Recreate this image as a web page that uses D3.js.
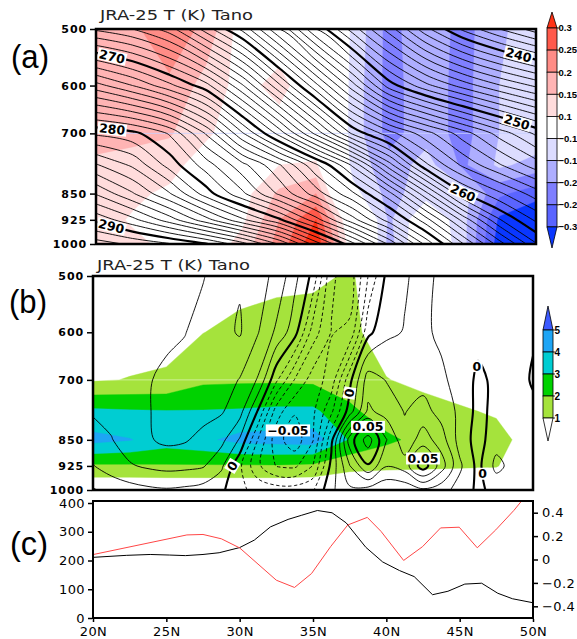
<!DOCTYPE html>
<html>
<head>
<meta charset="utf-8">
<script src="https://cdn.jsdelivr.net/npm/d3@7/dist/d3.min.js"></script>
<style>
  body { margin: 0; background: #fff; }
  svg { display: block; }
</style>
</head>
<body>
<svg id="fig" width="577" height="639"></svg>
<script>
////////////////////////////////////////////////////////////////////////////////
// Data  (every grid row runs 500 hPa at the top -> 1000 hPa at the bottom)

var levels = [500, 600, 700, 775, 850, 925, 1000];
var tickLevels = [500, 600, 700, 850, 925, 1000];

// (a) 2.5 deg latitude grid
var latA = [20, 22.5, 25, 27.5, 30, 32.5, 35, 37.5, 40, 42.5, 45, 47.5, 50];

var tempK = [
  [266.8, 266.0, 264.5, 261.5, 258.7, 255.0, 251.0, 247.5, 244.5, 241.3, 238.8, 237.0, 235.5],
  [274.4, 273.0, 271.3, 269.4, 266.1, 262.2, 258.3, 254.4, 250.5, 248.3, 246.6, 245.1, 243.8],
  [280.8, 280.3, 278.9, 275.9, 272.1, 268.6, 264.7, 260.8, 258.4, 256.4, 254.5, 252.6, 250.8],
  [284.1, 282.8, 280.6, 278.5, 276.3, 274.1, 271.2, 267.8, 263.4, 259.2, 256.8, 255.1, 253.5],
  [286.9, 285.1, 283.1, 280.5, 278.2, 275.8, 273.5, 271.2, 268.3, 264.3, 260.1, 258.2, 256.5],
  [289.7, 288.3, 286.5, 284.4, 282.2, 280.2, 277.4, 274.4, 271.5, 268.4, 264.7, 261.1, 258.8],
  [292.5, 291.8, 291.1, 290.1, 288.4, 285.9, 282.5, 279.3, 275.8, 271.7, 268.1, 264.5, 261.1]
];

var tempAno = [
  [0.18, 0.19, 0.235, 0.185, 0.07, 0.06, 0.02, -0.11, -0.22, -0.16, -0.22, -0.16, -0.12],
  [0.18, 0.18, 0.19, 0.13, 0.08, 0.12, 0.05, -0.12, -0.22, -0.17, -0.22, -0.15, -0.11],
  [0.17, 0.165, 0.155, 0.11, 0.06, 0.07, 0.03, -0.12, -0.22, -0.17, -0.22, -0.15, -0.11],
  [0.14, 0.13, 0.12, 0.07, 0.05, 0.10, 0.11, -0.12, -0.18, -0.13, -0.21, -0.14, -0.17],
  [0.12, 0.11, 0.09, 0.05, 0.08, 0.16, 0.20, -0.08, -0.17, -0.12, -0.13, -0.24, -0.28],
  [0.12, 0.095, 0.07, 0.05, 0.09, 0.20, 0.30, 0.02, -0.16, -0.05, -0.13, -0.31, -0.35],
  [0.12, 0.11, 0.09, 0.06, 0.12, 0.22, 0.34, 0.05, -0.17, -0.03, -0.13, -0.33, -0.36]
];

// (b) shaded field, same 2.5 deg grid
var shadeB = [
  [0.1, 0.2, 0.3, 0.4, 0.55, 0.75, 0.8, 1.1, 0.4, 0.3, 0.2, 0.1, 0.1],
  [0.3, 0.5, 0.6, 0.98, 1.3, 1.4, 1.45, 1.2, 0.6, 0.4, 0.3, 0.2, 0.1],
  [0.9, 1.04, 1.15, 1.8, 1.85, 1.85, 1.8, 1.5, 1.03, 0.8, 0.6, 0.4, 0.2],
  [3.2, 3.1, 3.05, 3.05, 3.1, 3.2, 3.2, 2.2, 1.5, 1.3, 1.1, 0.9, 0.3],
  [4.3, 4.05, 3.5, 3.8, 4.3, 4.4, 4.5, 2.9, 2.2, 1.7, 1.5, 1.3, 0.6],
  [1.85, 1.85, 1.9, 1.9, 1.9, 1.9, 1.8, 1.3, 1.2, 1.15, 1.1, 1.05, 0.3],
  [0.05, 0.05, 0.05, 0.05, 0.05, 0.05, 0.05, 0.05, 0.05, 0.05, 0.05, 0.05, 0.05]
];

// (b) contoured field on a 1.25 deg grid, in units of 0.01
var latW = [20, 21.25, 22.5, 23.75, 25, 26.25, 27.5, 28.75, 30, 31.25, 32.5, 33.75, 35,
            36.25, 37.5, 38.75, 40, 41.25, 42.5, 43.75, 45, 46.25, 47.5, 48.75, 50];
var lineB = [
  [2.2, 2.3, 2.4, 2.5, 2.6, 2.8, 2.95, 3.4, 3.9, 3.3, 2.8, 1.3, -0.3, -3.8, -4.6, -2.0, 0.2, 0.9, 1.3, 0.8, 0.5, 0.4, 0.4, 0.4, 0.4],
  [2.3, 2.45, 2.6, 2.75, 2.85, 2.97, 3.3, 3.7, 4.1, 3.05, 1.8, 0.4, -2.5, -4.05, -3.8, -0.3, 0.8, 1.05, 1.2, 0.8, 0.5, 0.3, 0.2, 0.2, 0.1],
  [2.4, 2.6, 2.8, 2.95, 3.15, 3.3, 3.4, 3.5, 2.95, 1.9, -0.8, -3.05, -4.5, -3.6, -0.3, 2.5, 1.95, 1.6, 1.6, 1.2, 0.6, -0.2, 0.2, 0.4, -0.1],
  [2.1, 2.3, 2.6, 2.95, 3.25, 3.4, 3.35, 3.1, 2.4, -0.1, -3.5, -4.9, -4.2, -2.2, 0.5, 3.2, 2.6, 1.95, 2.4, 1.6, 0.8, -0.3, 0.3, 0.5, 0.2],
  [1.6, 1.95, 2.5, 2.9, 3.2, 3.1, 2.7, 2.3, 0.9, -2.05, -4.6, -5.6, -4.05, -0.3, 4.5, 6.5, 4.05, 2.3, 3.5, 2.5, 0.6, -0.4, 0.6, 0.3, 0.1],
  [0.95, 1.5, 1.9, 2.15, 2.3, 2.25, 2.1, 1.2, -0.8, -2.8, -4.05, -4.2, -2.95, 0.3, 2.95, 4.9, 3.05, 3.5, 5.6, 3.5, 1.2, -0.3, 1.3, 0.6, 0.3],
  [-0.05, 0.3, 0.6, 0.8, 0.9, 0.8, 0.6, 0.2, -0.8, -1.3, -1.5, -1.5, -1.1, 0.8, 1.8, 1.6, 1.2, 1.3, 1.8, 1.4, 0.6, -0.2, 0.3, 0.2, 0.1]
];

// (c) two line series, read at their vertices
var blackLat = [20, 22.3, 23.9, 25.2, 26.3, 27.5, 28.6, 30, 31, 32.1, 33.3, 34.2, 35.3, 36.3,
                37.26, 38.6, 39.75, 40.9, 41.9, 43.15, 44.2, 45.35, 46.5, 47.6, 48.6, 50];
var blackVal = [211, 218, 221, 219, 217, 221, 227, 245, 271, 317, 343, 357, 374, 366,
                331, 246, 195, 165, 144, 81, 93, 118, 121, 86, 67, 53];
var redLat = [20, 26.4, 27.5, 28.75, 30, 32.5, 33.74, 34.9, 36.2, 37.37, 38.7, 39.64,
              41.18, 42.47, 43.7, 44.97, 46.2, 47.46, 48.7, 50];
var redVal = [0.042, 0.21, 0.214, 0.177, 0.099, -0.177, -0.239, -0.12, 0.11, 0.295, 0.36, 0.24,
              -0.008, 0.11, 0.27, 0.276, 0.1, 0.253, 0.42, 0.62];

var latTicks = [20, 25, 30, 35, 40, 45, 50];
var leftTicks = [0, 100, 200, 300, 400];
var rightTicks = [-0.4, -0.2, 0, 0.2, 0.4];

var anoBreaks = [-0.3, -0.25, -0.2, -0.15, -0.1, 0.1, 0.15, 0.2, 0.25, 0.3];
var anoColors = ["#0a37ff", "#5a64ff", "#7f7fff", "#aeaeff", "#dcdcff", "#ffffff",
                 "#ffdcdc", "#ffb4b4", "#ff8c86", "#ff5a4b", "#ff3214"];
// colour-bar labels as they show at the page edge
var anoLabels = ["0.3", "0.25", "0.2", "0.15", "0.1", "\u22120.1", "\u22120.1", "\u22120.2", "\u22120.2", "\u22120.3"];

var shadeBreaks = [1, 2, 3, 4, 5];
var shadeColors = ["#ffffff", "#a5e33c", "#00d200", "#00cdd2", "#1ea5f5", "#3c5aff"];
var shadeLabels = ["5", "4", "3", "2", "1"];

var tempLevels = d3.range(230, 300, 1);
var bLevels = [-6, -5, -4, -3, -2, -1, 0, 1, 2, 3, 4, 5, 6, 7];

////////////////////////////////////////////////////////////////////////////////
// Helpers

var svg = d3.select("#fig");
var defs = svg.append("defs");
var FONT = "'DejaVu Sans', 'Liberation Sans', sans-serif";

function clipFor(id, x0, y0, x1, y1) {
  defs.append("clipPath").attr("id", id).append("rect")
    .attr("x", x0).attr("y", y0).attr("width", x1 - x0).attr("height", y1 - y0);
  return "url(#" + id + ")";
}

// d3.contours point (cell units, value k sits at k+0.5) -> page position
function makeMapper(lats, xs, ys) {
  var nx = lats.length, ny = levels.length;
  var py = levels.map(function(p) { return ys(p); });
  return function(pt) {
    var gx = Math.max(0, Math.min(nx - 1, pt[0] - 0.5));
    var gy = Math.max(0, Math.min(ny - 1, pt[1] - 0.5));
    var i = Math.min(nx - 2, Math.floor(gx)), j = Math.min(ny - 2, Math.floor(gy));
    var lat = lats[i] + (gx - i) * (lats[i + 1] - lats[i]);
    return { x: xs(lat), y: py[j] + (gy - j) * (py[j + 1] - py[j]), gx: gx, gy: gy };
  };
}

function shade(g, grid, lats, xs, ys, breaks, colors) {
  var nx = lats.length, ny = levels.length;
  var map = makeMapper(lats, xs, ys);
  g.append("rect").attr("x", xs(lats[0])).attr("y", ys(levels[0]))
    .attr("width", xs(lats[nx - 1]) - xs(lats[0]))
    .attr("height", ys(levels[ny - 1]) - ys(levels[0]))
    .attr("fill", colors[0]);
  d3.contours().size([nx, ny]).thresholds(breaks)(d3.merge(grid)).forEach(function(b, k) {
    var d = "";
    b.coordinates.forEach(function(poly) {
      poly.forEach(function(ring) {
        d += "M" + ring.map(function(p) {
          var q = map(p); return q.x.toFixed(2) + "," + q.y.toFixed(2);
        }).join("L") + "Z";
      });
    });
    if (d) g.append("path").attr("d", d).attr("fill", colors[k + 1])
      .attr("stroke", colors[k + 1]).attr("stroke-width", 0.4);
  });
}

// cut a closed contour ring into open lines, dropping the pieces along the grid edge
function splitRing(pts, nx, ny) {
  var n = pts.length;
  function edge(a, b) {
    return (a.gx === 0 && b.gx === 0) || (a.gx === nx - 1 && b.gx === nx - 1) ||
           (a.gy === 0 && b.gy === 0) || (a.gy === ny - 1 && b.gy === ny - 1);
  }
  var start = -1;
  for (var i = 0; i < n; i++) if (edge(pts[i], pts[(i + 1) % n])) { start = i; break; }
  if (start < 0) return [{ pts: pts, closed: true }];
  var pieces = [], cur = null;
  for (var k = 1; k <= n; k++) {
    var a = pts[(start + k) % n], b = pts[(start + k + 1) % n];
    if (edge(a, b)) { if (cur) pieces.push({ pts: cur, closed: false }); cur = null; }
    else { if (!cur) cur = [a]; cur.push(b); }
  }
  if (cur) pieces.push({ pts: cur, closed: false });
  return pieces;
}

function isolines(grid, lats, xs, ys, values) {
  var nx = lats.length, ny = levels.length;
  var map = makeMapper(lats, xs, ys);
  var out = [];
  d3.contours().size([nx, ny]).thresholds(values.map(function(v) { return v + 1e-7; }))(d3.merge(grid))
    .forEach(function(c, k) {
      c.coordinates.forEach(function(poly) {
        poly.forEach(function(ring) {
          var pts = [];
          ring.forEach(function(p) {
            var q = map(p), last = pts[pts.length - 1];
            if (!last || Math.abs(last.x - q.x) > 1e-6 || Math.abs(last.y - q.y) > 1e-6) pts.push(q);
          });
          var f = pts[0], l = pts[pts.length - 1];
          if (pts.length > 1 && Math.abs(f.x - l.x) < 1e-6 && Math.abs(f.y - l.y) < 1e-6) pts.pop();
          if (pts.length < 2) return;
          splitRing(pts, nx, ny).forEach(function(piece) {
            if (piece.pts.length < 2) return;
            piece.value = values[k];
            out.push(piece);
          });
        });
      });
    });
  return out;
}

var openLine = d3.line().x(function(d) { return d.x; }).y(function(d) { return d.y; })
  .curve(d3.curveCatmullRom.alpha(0.5));
var loopLine = d3.line().x(function(d) { return d.x; }).y(function(d) { return d.y; })
  .curve(d3.curveCatmullRomClosed.alpha(0.5));

function drawLines(g, lines, style) {
  g.selectAll(null).data(lines).join("path")
    .attr("d", function(d) { return (d.closed ? loopLine : openLine)(d.pts); })
    .attr("fill", "none").attr("stroke", "#000")
    .attr("stroke-width", function(d) { return style(d).w; })
    .attr("stroke-dasharray", function(d) { return style(d).dash || null; })
    .attr("stroke-linejoin", "round");
}

// label placed on the nearest point of the given contour value
function label(g, lines, value, lat, p, xs, ys, text, fs, rotate) {
  var tx = xs(lat), ty = ys(p), best = null;
  lines.forEach(function(l) {
    if (Math.abs(l.value - value) > 1e-9) return;
    var pts = l.closed ? l.pts.concat([l.pts[0]]) : l.pts;
    for (var k = 0; k < pts.length - 1; k++) {
      var a = pts[k], b = pts[k + 1], dx = b.x - a.x, dy = b.y - a.y, L = dx * dx + dy * dy;
      var t = L ? Math.max(0, Math.min(1, ((tx - a.x) * dx + (ty - a.y) * dy) / L)) : 0;
      var x = a.x + t * dx, y = a.y + t * dy, d = (x - tx) * (x - tx) + (y - ty) * (y - ty);
      if (!best || d < best.d) best = { d: d, x: x, y: y, ang: Math.atan2(dy, dx) * 180 / Math.PI };
    }
  });
  if (!best) return;
  var ang = best.ang;
  if (ang > 90) ang -= 180;
  if (ang < -90) ang += 180;
  if (!rotate) ang = 0;
  var lg = g.append("g").attr("transform", "translate(" + best.x + "," + best.y + ") rotate(" + ang + ")");
  var box = lg.append("rect").attr("fill", "#fff");
  var t = lg.append("text").attr("text-anchor", "middle").attr("dy", "0.36em")
    .attr("font-family", FONT).attr("font-weight", "bold").attr("font-size", fs).text(text);
  var w = t.node().getComputedTextLength();
  box.attr("x", -w / 2 - 1.5).attr("y", -fs * 0.48).attr("width", w + 3).attr("height", fs * 0.96);
}

function pressureAxis(g, ys, x0) {
  g.append("g").attr("transform", "translate(" + x0 + ",0)")
    .call(d3.axisLeft(ys).tickValues(tickLevels).tickFormat(d3.format("d")).tickSize(5).tickPadding(3))
    .call(function(a) {
      a.select(".domain").remove();
      a.selectAll("line").attr("stroke-width", 1.5);
      a.selectAll("text").attr("font-family", FONT).attr("font-weight", "bold")
        .attr("font-size", 11).attr("letter-spacing", 0.9).attr("fill", "#000");
    });
}

function colorbar(g, x, y0, step, colors, labels, triTop, triBot, fs) {
  var w = 10, n = colors.length - 2, y1 = y0 + n * step;
  g.append("path").attr("d", "M" + x + "," + y0 + "L" + (x + w / 2) + "," + triTop + "L" + (x + w) + "," + y0 + "Z")
    .attr("fill", colors[colors.length - 1]).attr("stroke", "#000").attr("stroke-width", 0.8);
  for (var i = 0; i < n; i++) {
    g.append("rect").attr("x", x).attr("y", y0 + i * step).attr("width", w).attr("height", step)
      .attr("fill", colors[colors.length - 2 - i]).attr("stroke", "#000").attr("stroke-width", 0.8);
  }
  g.append("path").attr("d", "M" + x + "," + y1 + "L" + (x + w / 2) + "," + triBot + "L" + (x + w) + "," + y1 + "Z")
    .attr("fill", colors[0]).attr("stroke", "#000").attr("stroke-width", 0.8);
  labels.forEach(function(s, i) {
    g.append("line").attr("x1", x + w).attr("x2", x + w + 2).attr("y1", y0 + i * step).attr("y2", y0 + i * step)
      .attr("stroke", "#000").attr("stroke-width", 0.8);
    g.append("text").attr("x", x + w + 1.5).attr("y", y0 + i * step).attr("dy", "0.35em")
      .attr("font-family", "'Liberation Sans', Arial, sans-serif").attr("font-weight", "bold")
      .attr("font-size", fs).text(s);
  });
}

function panelTitle(x, y) {
  svg.append("text").attr("x", x).attr("y", y).attr("font-family", FONT).attr("font-size", 14)
    .attr("fill", "#222").attr("textLength", 153).attr("lengthAdjust", "spacingAndGlyphs")
    .text("JRA-25 T (K) Tano");
}

function panelLetter(text, x, y) {
  svg.append("text").attr("x", x).attr("y", y).attr("font-family", "'Liberation Sans', Arial, sans-serif")
    .attr("font-size", 34).attr("textLength", 38).attr("lengthAdjust", "spacingAndGlyphs").text(text);
}

////////////////////////////////////////////////////////////////////////////////
// (a)

var A = { x0: 96, x1: 536, y0: 29, y1: 244 };
var xA = d3.scaleLinear().domain([20, 50]).range([A.x0, A.x1]);
var yA = d3.scaleLog().domain([500, 1000]).range([A.y0, A.y1]);
var gA = svg.append("g").attr("clip-path", clipFor("clipA", A.x0, A.y0, A.x1, A.y1));

shade(gA, tempAno, latA, xA, yA, anoBreaks, anoColors);
gA.append("line").attr("x1", A.x0).attr("x2", A.x1).attr("y1", yA(700)).attr("y2", yA(700))
  .attr("stroke", "#c8d0ff").attr("stroke-width", 0.8);

var tLines = isolines(tempK, latA, xA, yA, tempLevels);
drawLines(gA, tLines, function(d) { return { w: d.value % 10 === 0 ? 2.2 : 0.9 }; });
label(gA, tLines, 270, 21.1, 545, xA, yA, "270", 12.5, true);
label(gA, tLines, 280, 21.1, 690, xA, yA, "280", 12.5, true);
label(gA, tLines, 290, 21.1, 935, xA, yA, "290", 12.5, true);
label(gA, tLines, 240, 48.6, 565, xA, yA, "240", 12.5, true);
label(gA, tLines, 250, 48.6, 685, xA, yA, "250", 12.5, true);
label(gA, tLines, 260, 45.0, 850, xA, yA, "260", 12.5, true);

svg.append("rect").attr("x", A.x0).attr("y", A.y0).attr("width", A.x1 - A.x0).attr("height", A.y1 - A.y0)
  .attr("fill", "none").attr("stroke", "#000").attr("stroke-width", 2.5);
pressureAxis(svg, yA, A.x0 - 1);
panelTitle(100, 20);
panelLetter("(a)", 11, 68);
colorbar(svg, 547, 28, 22.1, anoColors, anoLabels, 12, 248, 9.5);

////////////////////////////////////////////////////////////////////////////////
// (b)

var B = { x0: 93, x1: 533, y0: 276, y1: 490 };
var xB = d3.scaleLinear().domain([20, 50]).range([B.x0, B.x1]);
var yB = d3.scaleLog().domain([500, 1000]).range([B.y0, B.y1]);
var gB = svg.append("g").attr("clip-path", clipFor("clipB", B.x0, B.y0, B.x1, B.y1));

shade(gB, shadeB, latA, xB, yB, shadeBreaks, shadeColors);
gB.append("line").attr("x1", B.x0).attr("x2", B.x1).attr("y1", yB(700)).attr("y2", yB(700))
  .attr("stroke", "#fff").attr("stroke-opacity", 0.6).attr("stroke-width", 0.8);

var wLines = isolines(lineB, latW, xB, yB, bLevels);
drawLines(gB, wLines, function(d) {
  if (d.value === 0 || d.value === 5) return { w: 2.1 };
  if (d.value < 0) return { w: 0.9, dash: "3.5,2.5" };
  return { w: 0.9 };
});
label(gB, wLines, 0, 29.5, 925, xB, yB, "0", 12.5, true);
label(gB, wLines, 0, 37.4, 730, xB, yB, "0", 12.5, true);
label(gB, wLines, 5, 38.7, 790, xB, yB, "0.05", 12.5, false);
label(gB, wLines, -5, 33.6, 830, xB, yB, "\u22120.05", 12.5, false);
label(gB, wLines, 5, 42.4, 860, xB, yB, "0.05", 12.5, false);
label(gB, wLines, 0, 46.25, 670, xB, yB, "0", 12.5, false);
label(gB, wLines, 0, 46.4, 950, xB, yB, "0", 12.5, false);

svg.append("rect").attr("x", B.x0).attr("y", B.y0).attr("width", B.x1 - B.x0).attr("height", B.y1 - B.y0)
  .attr("fill", "none").attr("stroke", "#000").attr("stroke-width", 2.5);
pressureAxis(svg, yB, B.x0 - 1);
panelTitle(97, 270);
panelLetter("(b)", 9, 313);
colorbar(svg, 543, 330, 22, shadeColors, shadeLabels, 306, 441, 10);

////////////////////////////////////////////////////////////////////////////////
// (c)

var C = { x0: 93, x1: 533, y0: 501, y1: 618 };
var xC = d3.scaleLinear().domain([20, 50]).range([C.x0, C.x1]);
var yL = d3.scaleLinear().domain([0, 407]).range([C.y1, C.y0]);
var yR = d3.scaleLinear().domain([-0.5, 0.5]).range([C.y1, C.y0]);
var gC = svg.append("g").attr("clip-path", clipFor("clipC", C.x0, C.y0, C.x1, C.y1));

gC.append("path").datum(blackLat)
  .attr("d", d3.line().x(function(d) { return xC(d); }).y(function(d, i) { return yL(blackVal[i]); }))
  .attr("fill", "none").attr("stroke", "#000").attr("stroke-width", 1);
gC.append("path").datum(redLat)
  .attr("d", d3.line().x(function(d) { return xC(d); }).y(function(d, i) { return yR(redVal[i]); }))
  .attr("fill", "none").attr("stroke", "#ff4646").attr("stroke-width", 1);

svg.append("rect").attr("x", C.x0).attr("y", C.y0).attr("width", C.x1 - C.x0).attr("height", C.y1 - C.y0)
  .attr("fill", "none").attr("stroke", "#000").attr("stroke-width", 2);

function styleC(a) {
  a.select(".domain").remove();
  a.selectAll("line").attr("stroke-width", 1.5);
  a.selectAll("text").attr("font-family", FONT).attr("font-size", 13)
    .attr("letter-spacing", 0.4).attr("fill", "#000");
}
svg.append("g").attr("transform", "translate(" + (C.x0 - 1) + ",0)")
  .call(d3.axisLeft(yL).tickValues(leftTicks).tickSize(4).tickPadding(3)).call(styleC);
svg.append("g").attr("transform", "translate(" + (C.x1 + 1) + ",0)")
  .call(d3.axisRight(yR).tickValues(rightTicks).tickSize(4).tickPadding(4)
    .tickFormat(function(d) { return d === 0 ? "0" : (d < 0 ? "\u2212" : "") + Math.abs(d); }))
  .call(styleC);
svg.append("g").attr("transform", "translate(0," + (C.y1 + 1) + ")")
  .call(d3.axisBottom(xC).tickValues(latTicks).tickSize(3).tickPadding(5)
    .tickFormat(function(d) { return d + "N"; }))
  .call(styleC);
panelLetter("(c)", 10, 555);
</script>
</body>
</html>
